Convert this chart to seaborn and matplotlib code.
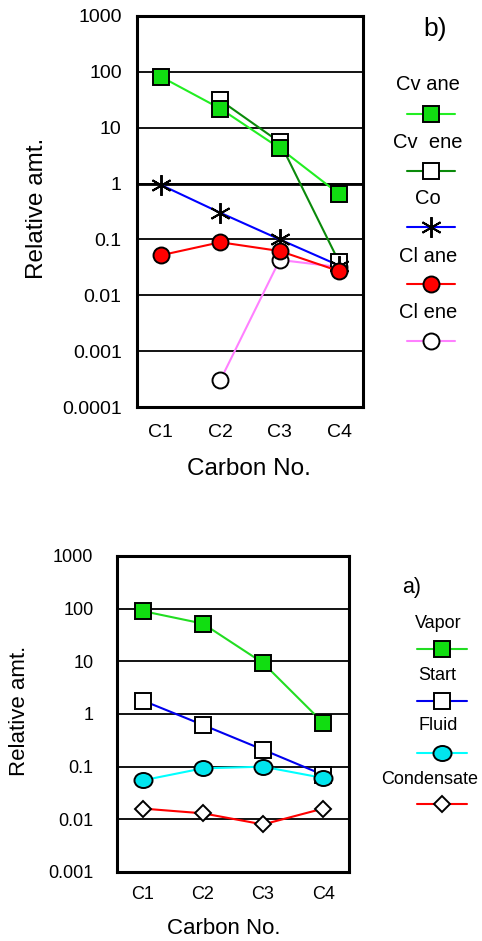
import numpy as np
import pandas as pd
import matplotlib
matplotlib.use("Agg")
import matplotlib.pyplot as plt
from matplotlib.lines import Line2D
from matplotlib.path import Path
from matplotlib.transforms import Affine2D
from matplotlib.ticker import NullLocator
import seaborn as sns

# ---- data -------------------------------------------------------------
carbons = ["C1", "C2", "C3", "C4"]

# panel b) relative amounts
cv_ane = [82, 22, 4.3, 0.65]
cv_ene = [np.nan, 31, 5.5, 0.039]
co = [0.95, 0.30, 0.10, 0.034]
cl_ane = [0.052, 0.089, 0.062, 0.027]
cl_ene = [np.nan, 0.0003, 0.043, 0.032]
b_ticks = [1000, 100, 10, 1, 0.1, 0.01, 0.001, 0.0001]
b_ticklabels = ["1000", "100", "10", "1", "0.1", "0.01", "0.001", "0.0001"]

# panel a) relative amounts
vapor = [90, 52, 9.3, 0.68]
start = [1.8, 0.62, 0.21, 0.07]
fluid = [0.055, 0.093, 0.10, 0.061]
condensate = [0.016, 0.013, 0.008, 0.016]
a_ticks = [1000, 100, 10, 1, 0.1, 0.01, 0.001]
a_ticklabels = ["1000", "100", "10", "1", "0.1", "0.01", "0.001"]

sns.set_theme(style="white")
plt.rcParams["font.family"] = ["Liberation Sans", "DejaVu Sans"]
plt.rcParams["text.color"] = "black"
plt.rcParams["axes.labelcolor"] = "black"

W, H = 482, 941
fig = plt.figure(figsize=(W / 100, H / 100), dpi=100)


def px(x, y):
    return x / W, 1 - y / H


ellipse = Path(Affine2D().scale(1.2, 1.0).transform(Path.unit_circle().vertices),
               Path.unit_circle().codes)
asterisk = (6, 2, 0)

b_series = [
    ("Cv ane", cv_ane, dict(color="#22ee22", marker="s", markersize=12,
                            markerfacecolor="#11dd11"), 3.2),
    ("Cv  ene", cv_ene, dict(color="#0a8a0a", marker="s", markersize=12,
                             markerfacecolor="white"), 2.6),
    ("Co", co, dict(color="#0000ff", marker=asterisk, markersize=15,
                    markerfacecolor="black"), 2.8),
    ("Cl ane", cl_ane, dict(color="#ff0000", marker="o", markersize=11.5,
                            markerfacecolor="#ff0000"), 3.1),
    ("Cl ene", cl_ene, dict(color="#ff80ff", marker="o", markersize=11.5,
                            markerfacecolor="white"), 2.5),
]
a_series = [
    ("Vapor", vapor, dict(color="#22dd22", marker="s", markersize=12,
                          markerfacecolor="#11dd11"), 3),
    ("Start", start, dict(color="#0000ee", marker="s", markersize=12,
                          markerfacecolor="white"), 3),
    ("Fluid", fluid, dict(color="#00ffff", marker=ellipse, markersize=13,
                          markerfacecolor="#00e5ee"), 3),
    ("Condensate", condensate, dict(color="#ff0000", marker="D", markersize=8,
                                    markerfacecolor="white"), 3),
]


def draw_panel(ax, series, ticks, ticklabels, ylim, xpad, tick_fs, ypad, xpad_pt):
    for name, vals, style, z in series:
        df = pd.DataFrame({"pos": np.arange(len(carbons)), "val": vals}).dropna()
        sns.lineplot(data=df, x="pos", y="val", ax=ax, estimator=None, sort=False,
                     linewidth=1.5, markeredgecolor="black", markeredgewidth=1.4,
                     zorder=z, **style)
    ax.set_yscale("log")
    ax.set_ylim(*ylim)
    ax.set_xlim(-xpad, len(carbons) - 1 + xpad)
    ax.set_xticks(np.arange(len(carbons)), carbons)
    ax.set_yticks(ticks, ticklabels)
    ax.yaxis.set_minor_locator(NullLocator())
    ax.tick_params(axis="both", length=0, labelsize=tick_fs, colors="black")
    ax.tick_params(axis="y", pad=ypad)
    ax.tick_params(axis="x", pad=xpad_pt)
    for t in ticks[1:-1]:
        ax.axhline(t, color="black", linewidth=1.3, zorder=1)
    for sp in ax.spines.values():
        sp.set_color("black")
        sp.set_linewidth(2.2)
    ax.set_xlabel("")
    ax.set_ylabel("")


def draw_key(series, text_y, line_y, text_x, x0, x1, fs, text_xs=None):
    for i, (name, vals, style, z) in enumerate(series):
        tx = text_xs[i] if text_xs else text_x
        fig.text(*px(tx, text_y[i]), name, ha="center", va="center",
                 fontsize=fs, color="black")
        xa, ya = px(x0, line_y[i])
        xb, _ = px(x1, line_y[i])
        fig.add_artist(Line2D([xa, xb], [ya, ya], transform=fig.transFigure,
                              color=style["color"], linewidth=1.5))
        xm, _ = px((x0 + x1) / 2, line_y[i])
        fig.add_artist(Line2D([xm], [ya], transform=fig.transFigure,
                              linestyle="none", marker=style["marker"],
                              markersize=style["markersize"],
                              markerfacecolor=style["markerfacecolor"],
                              markeredgecolor="black", markeredgewidth=1.4))


# ---- panel b) (upper) -------------------------------------------------
ax_b = fig.add_axes([137 / W, 1 - 407 / H, 226 / W, 391 / H])
draw_panel(ax_b, b_series, b_ticks, b_ticklabels, (1e-4, 1e3), 0.4, 14, 11, 12)
ax_b.axhline(1, color="black", linewidth=2.0, zorder=1)
ax_b.set_xlabel("Carbon No.", fontsize=17.5, color="black")
ax_b.set_ylabel("Relative amt.", fontsize=17.5, color="black")
ax_b.xaxis.set_label_coords(0.496, -0.130)
ax_b.yaxis.set_label_coords(-0.394, 0.508)
fig.text(*px(435, 29), "b)", ha="center", va="center", fontsize=19)
draw_key(b_series, [85, 143, 199, 256, 313], [114, 171, 227, 284, 341],
         428, 407, 455, 14.5)

# ---- panel a) (lower) -------------------------------------------------
ax_a = fig.add_axes([117 / W, 1 - 872 / H, 232 / W, 316 / H])
draw_panel(ax_a, a_series, a_ticks, a_ticklabels, (1e-3, 1e3), 0.43, 13, 17, 10)
ax_a.set_xlabel("Carbon No.", fontsize=16, color="black")
ax_a.set_ylabel("Relative amt.", fontsize=16, color="black")
ax_a.xaxis.set_label_coords(0.461, -0.146)
ax_a.yaxis.set_label_coords(-0.373, 0.51)
fig.text(*px(412, 587), "a)", ha="center", va="center", fontsize=15.5)
draw_key(a_series, [623, 676, 726, 779], [649, 701, 753, 804],
         438, 417, 467, 13, text_xs=[438, 437, 438, 430])

fig.savefig("out.png", dpi=100)
